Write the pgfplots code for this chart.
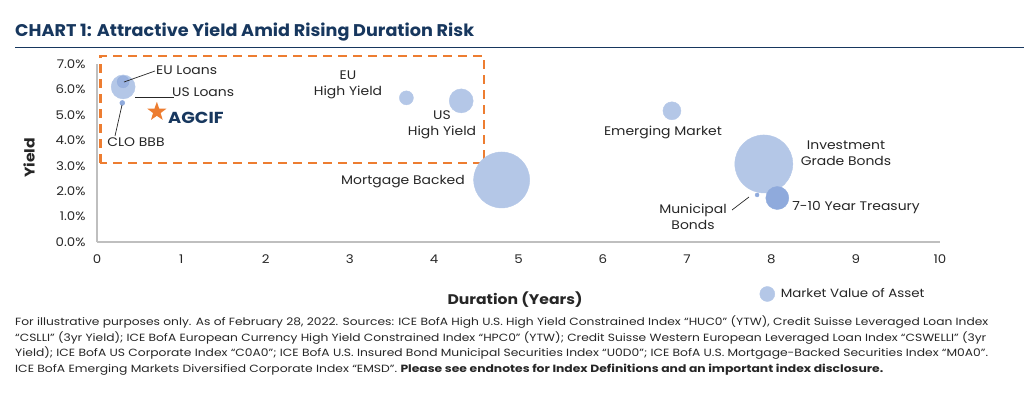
\documentclass[border=0pt]{standalone}
\usepackage{pgfplots}
\pgfplotsset{compat=1.18}
\usepackage{fontspec}
\usepackage{graphicx}
\setmainfont{Poppins}[FakeStretch=1.12]
\definecolor{navy}{HTML}{17375E}
\definecolor{orng}{HTML}{ED7D31}
\definecolor{bl}{HTML}{B4C7E7}
\definecolor{bd}{HTML}{8FAADC}
\definecolor{txt}{HTML}{262626}
\definecolor{axg}{HTML}{BFBFBF}
\pgfdeclareplotmark{fstar}{%
\pgfpathmoveto{\pgfpointpolar{90}{\pgfplotmarksize}}%
\pgfpathlineto{\pgfpointpolar{126}{0.4\pgfplotmarksize}}%
\pgfpathlineto{\pgfpointpolar{162}{\pgfplotmarksize}}%
\pgfpathlineto{\pgfpointpolar{198}{0.4\pgfplotmarksize}}%
\pgfpathlineto{\pgfpointpolar{234}{\pgfplotmarksize}}%
\pgfpathlineto{\pgfpointpolar{270}{0.4\pgfplotmarksize}}%
\pgfpathlineto{\pgfpointpolar{306}{\pgfplotmarksize}}%
\pgfpathlineto{\pgfpointpolar{342}{0.4\pgfplotmarksize}}%
\pgfpathlineto{\pgfpointpolar{18}{\pgfplotmarksize}}%
\pgfpathlineto{\pgfpointpolar{54}{0.4\pgfplotmarksize}}%
\pgfpathclose\pgfusepathqfill}
\begin{document}
\begin{tikzpicture}[x=1bp,y=1bp]
\useasboundingbox (0,0) rectangle (1024,-400);
% title
\node[anchor=west,inner sep=0,font=\fontsize{17}{20}\selectfont\bfseries,text=navy] at (15,-32) {\resizebox{459bp}{\height}{CHART 1: Attractive Yield Amid Rising Duration Risk}};
\draw[navy,line width=1bp] (15,-47) -- (1024,-47);
\begin{axis}[
  at={(97bp,-242bp)}, anchor=south west,
  scale only axis, width=843bp, height=178bp,
  xmin=0, xmax=10, ymin=0, ymax=7,
  clip=false,
  axis lines=left,
  axis line style={-, draw=axg, line width=1.2bp},
  major tick length=0pt,
  xtick={0,1,2,3,4,5,6,7,8,9,10},
  xticklabels={0,1,2,3,4,5,6,7,8,9,10},
  ytick={0,1,2,3,4,5,6,7},
  yticklabels={0.0\%,1.0\%,2.0\%,3.0\%,4.0\%,5.0\%,6.0\%,7.0\%},
  ticklabel style={font=\fontsize{12}{14}\selectfont, text=txt},
  xticklabel style={yshift=-9bp},
  yticklabel style={xshift=-8bp},
  legend style={at={(0.786,-0.292)}, anchor=west, draw=none, fill=none,
     font=\fontsize{12}{14}\selectfont, text=txt, inner sep=0pt,
     /tikz/every even column/.append style={column sep=0pt}},
  legend image post style={mark size=7.5bp},
  legend cell align=left,
]
% dashed box
\addplot[orng, line width=2.6bp, dash pattern=on 9bp off 6bp, forget plot]
  coordinates {(0.04,3.11) (0.04,7.32) (4.59,7.32) (4.59,3.11) (0.04,3.11)};
% Mortgage Backed (legend)
\addplot[bl, only marks, mark=*, mark size=28bp]
  coordinates {(4.80,2.44)};
\addlegendentry{\hspace{4bp}Market Value of Asset}
% Investment Grade
\addplot[bl, only marks, mark=*, mark size=29bp, forget plot]
  coordinates {(7.91,3.07)};
% Treasury
\addplot[bd, only marks, mark=*, mark size=11.5bp, forget plot]
  coordinates {(8.07,1.73)};
% Municipal
\addplot[bd, only marks, mark=*, mark size=2bp, forget plot]
  coordinates {(7.83,1.85)};
% EM
\addplot[bl, only marks, mark=*, mark size=9bp, forget plot]
  coordinates {(6.82,5.16)};
% EU HY
\addplot[bl, only marks, mark=*, mark size=7bp, forget plot]
  coordinates {(3.67,5.67)};
% US HY
\addplot[bl, only marks, mark=*, mark size=12bp, forget plot]
  coordinates {(4.32,5.55)};
% US Loans
\addplot[bl, only marks, mark=*, mark size=12bp, forget plot]
  coordinates {(0.31,6.10)};
% EU Loans
\addplot[bd, only marks, mark=*, mark size=6bp, opacity=0.7, forget plot]
  coordinates {(0.31,6.30)};
% CLO BBB
\addplot[bd, only marks, mark=*, mark size=2.5bp, forget plot]
  coordinates {(0.30,5.47)};
% AGCIF
\addplot[orng, only marks, mark=fstar, mark size=10bp, forget plot]
  coordinates {(0.71,5.12)};
\end{axis}
% axis titles
\node[rotate=90,font=\fontsize{14}{16}\selectfont\bfseries,text=txt] at (29,-158) {Yield};
\node[font=\fontsize{14}{16}\selectfont\bfseries,text=txt] at (515,-300) {Duration (Years)};
% bubble labels
\begin{scope}[every node/.style={font=\fontsize{12.5}{16.5}\selectfont, text=txt, inner sep=0pt}]
\draw[txt,line width=0.7bp] (124,-82) -- (155,-71);
\node[anchor=west] at (156,-70) {EU Loans};
\draw[txt,line width=0.7bp] (135,-97.5) -- (174,-97.5);
\node[anchor=base west] at (172,-96) {US Loans};
\draw[txt,line width=0.7bp] (122,-105) -- (115,-136);
\node at (136,-142) {CLO BBB};
\node[anchor=west,font=\fontsize{16}{18}\selectfont\bfseries,text=navy] at (168,-118) {AGCIF};
\node[align=center] at (348,-85) {EU\\High Yield};
\node[align=center] at (442,-125) {US\\High Yield};
\node at (403,-182) {Mortgage Backed};
\node at (663,-132) {Emerging Market};
\node[align=center] at (846,-153) {Investment\\Grade Bonds};
\node[align=center] at (693,-217) {Municipal\\Bonds};
\draw[txt,line width=0.7bp] (732,-210) -- (749,-197);
\node at (856,-208) {7-10 Year Treasury};
\end{scope}
% footnote
\node[anchor=north west, inner sep=0, align=left, text=txt, font=\fontsize{10.5}{15.4}\selectfont] at (15,-316) {%
\resizebox{973bp}{\height}{For illustrative purposes only. As of February 28, 2022. Sources: ICE BofA High U.S. High Yield Constrained Index “HUC0” (YTW), Credit Suisse Leveraged Loan Index}\\
\resizebox{971bp}{\height}{“CSLLI” (3yr Yield); ICE BofA European Currency High Yield Constrained Index “HPC0” (YTW); Credit Suisse Western European Leveraged Loan Index “CSWELLI” (3yr}\\
\resizebox{973bp}{\height}{Yield); ICE BofA US Corporate Index “C0A0”; ICE BofA U.S. Insured Bond Municipal Securities Index “U0D0”; ICE BofA U.S. Mortgage-Backed Securities Index “M0A0”.}\\
\resizebox{868bp}{\height}{ICE BofA Emerging Markets Diversified Corporate Index “EMSD”. \textbf{Please see endnotes for Index Definitions and an important index disclosure.}}};
\end{tikzpicture}
\end{document}
